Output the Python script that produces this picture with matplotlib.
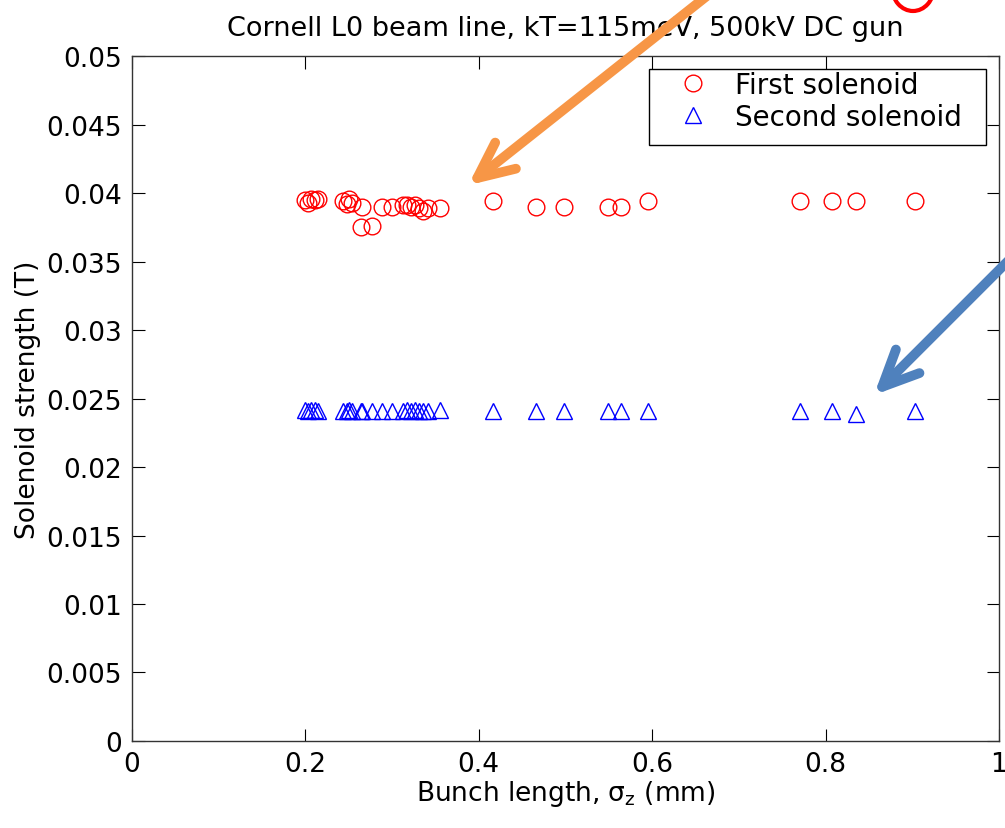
import numpy as np
import matplotlib.pyplot as plt
from matplotlib.patches import FancyArrowPatch, Ellipse, Rectangle

plt.rcParams['font.family'] = ['DejaVu Sans']
plt.rcParams['mathtext.fontset'] = 'dejavusans'

# bunch length (mm) vs solenoid strength (T)
sigma_z = [0.200, 0.203, 0.207, 0.211, 0.215, 0.244, 0.248, 0.251, 0.254, 0.266,
           0.265, 0.277, 0.289, 0.300, 0.313, 0.318, 0.322, 0.327, 0.331, 0.336,
           0.342, 0.355, 0.417, 0.466, 0.499, 0.549, 0.564, 0.595, 0.771, 0.808,
           0.835, 0.903]
first_sol = [0.0395, 0.0393, 0.0396, 0.0395, 0.0396, 0.0394, 0.0392, 0.0396, 0.0393, 0.0390,
             0.0375, 0.0376, 0.0390, 0.0390, 0.0391, 0.0391, 0.0390, 0.0391, 0.0389, 0.0387,
             0.0389, 0.0389, 0.0394, 0.0390, 0.0390, 0.0390, 0.0390, 0.0394, 0.0394, 0.0394,
             0.0394, 0.0394]
second_sol = [0.0242, 0.0241, 0.0242, 0.0242, 0.0241, 0.0241, 0.0241, 0.0242, 0.0241, 0.0241,
              0.0241, 0.0241, 0.0241, 0.0241, 0.0241, 0.0242, 0.0241, 0.0242, 0.0241, 0.0241,
              0.0241, 0.0242, 0.0241, 0.0241, 0.0241, 0.0241, 0.0241, 0.0241, 0.0241, 0.0241,
              0.0239, 0.0241]

xticks = [0, 0.2, 0.4, 0.6, 0.8, 1]
xticklabels = ['0', '0.2', '0.4', '0.6', '0.8', '1']
yticks = [0, 0.005, 0.01, 0.015, 0.02, 0.025, 0.03, 0.035, 0.04, 0.045, 0.05]
yticklabels = ['0', '0.005', '0.01', '0.015', '0.02', '0.025', '0.03', '0.035', '0.04', '0.045', '0.05']

W, H = 1005, 829
def fp(x, y):
    # pixel position in the picture -> figure fraction
    return (x / W, 1 - y / H)

fig = plt.figure(figsize=(10.05, 8.29), dpi=100)
ax = fig.add_axes([0.131, 0.105, 0.863, 0.826])

ax.plot(sigma_z, first_sol, 'o', mfc='none', mec='#ff0000', ms=12, mew=1.0, label='First solenoid')
ax.plot(sigma_z, second_sol, '^', mfc='none', mec='#0000ff', ms=12, mew=1.0, label='Second solenoid')

ax.set_xlim(0, 1)
ax.set_ylim(0, 0.05)
ax.set_xticks(xticks)
ax.set_xticklabels(xticklabels)
ax.set_yticks(yticks)
ax.set_yticklabels(yticklabels)
ax.tick_params(direction='in', length=9, width=0.8, labelsize=19, top=True, right=True, pad=7)
for s in ax.spines.values():
    s.set_linewidth(1.0)
    s.set_color('#333333')

ax.set_title('Cornell L0 beam line, kT=115meV, 500kV DC gun', fontsize=19.5, pad=15)
ax.set_xlabel(r'Bunch length, $\mathrm{\sigma_z}$ (mm)', fontsize=19, labelpad=1)
ax.set_ylabel('Solenoid strength (T)', fontsize=19, labelpad=4)

leg = ax.legend(loc='upper left', bbox_to_anchor=fp(672, 72), bbox_transform=fig.transFigure,
                fontsize=20, frameon=False, borderaxespad=0, borderpad=0,
                handlelength=1.5, handletextpad=0.75, labelspacing=0.15)
ax.add_patch(Rectangle(fp(649, 146), 337 / W, 76 / H, transform=fig.transFigure,
                       fill=False, ec='black', lw=1.0, zorder=5))

# annotation arrows drawn over the plot
style = '->,head_length=2.6,head_width=1.2'
orange = FancyArrowPatch(fp(722, -15), fp(466, 188), transform=fig.transFigure,
                         arrowstyle=style, mutation_scale=10, color='#f79646', lw=7,
                         capstyle='round', joinstyle='round')
blue = FancyArrowPatch(fp(1025, 245), fp(872, 398), transform=fig.transFigure,
                       arrowstyle=style, mutation_scale=10, color='#4f81bd', lw=7,
                       capstyle='round', joinstyle='round')
fig.patches.extend([orange, blue])

circ = Ellipse(fp(913, -12), 42 / W, 48 / H, transform=fig.transFigure,
               fill=False, ec='#ff0000', lw=3)
fig.patches.append(circ)

fig.savefig('out.png', dpi=100)
